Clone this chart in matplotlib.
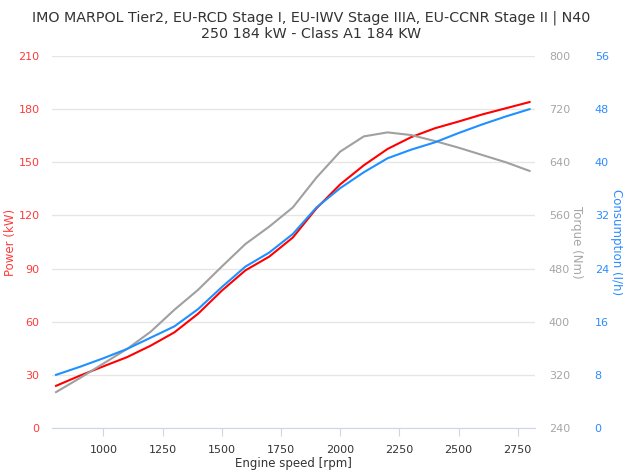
import matplotlib
matplotlib.use("Agg")
import matplotlib.pyplot as plt

plt.rcParams["font.family"] = ["DejaVu Sans"]

rpm = [800, 900, 1000, 1100, 1200, 1300, 1400, 1500, 1600, 1700, 1800,
       1900, 2000, 2100, 2200, 2300, 2400, 2500, 2600, 2700, 2800]
power = [23.8, 29.5, 34.8, 40.0, 46.5, 54.0, 64.5, 77.5, 89.0, 96.7, 107.5,
         124.0, 137.5, 148.3, 157.5, 164.2, 169.2, 173.0, 177.0, 180.5, 184.0]
torque = [294, 315, 337, 359, 385, 418, 448, 483, 517, 543, 572,
          617, 656, 679, 685, 681, 672, 662, 651, 640, 627]
consumption = [8.0, 9.2, 10.5, 11.9, 13.6, 15.3, 17.9, 21.2, 24.3, 26.4, 29.2,
               33.2, 36.1, 38.5, 40.6, 41.9, 43.0, 44.4, 45.7, 46.9, 48.0]

x_ticks = [1000, 1250, 1500, 1750, 2000, 2250, 2500, 2750]
power_ticks = list(range(0, 211, 30))
torque_ticks = list(range(240, 801, 80))
cons_ticks = list(range(0, 57, 8))

RED = "#ff0000"
GRAY = "#a0a0a0"
BLUE = "#1e90ff"

fig = plt.figure(figsize=(6.23, 4.75), dpi=100)
ax = fig.add_axes([52 / 623, 1 - 428 / 475, 483 / 623, 372 / 475])
ax2 = ax.twinx()
ax3 = ax.twinx()

ax.plot(rpm, power, color=RED, lw=1.5)
ax2.plot(rpm, torque, color=GRAY, lw=1.5)
ax3.plot(rpm, consumption, color=BLUE, lw=1.5)

ax.set_xlim(783, 2823)
ax.set_ylim(0, 210)
ax2.set_ylim(240, 800)
ax3.set_ylim(0, 56)

ax.set_xticks(x_ticks)
ax.set_yticks(power_ticks)
ax2.set_yticks(torque_ticks)
ax3.set_yticks(cons_ticks)

ax.grid(axis="y", color="#e6e6e6", lw=1)
ax.set_axisbelow(True)

for a in (ax, ax2, ax3):
    for s in a.spines.values():
        s.set_visible(False)
ax.spines["bottom"].set_visible(True)
ax.spines["bottom"].set_color("#ccd6eb")

ax.tick_params(axis="x", colors="#ccd6eb", length=6, labelcolor="#333333",
               labelsize=8, pad=6)
ax.tick_params(axis="y", length=0, labelcolor="#ff3b3b", labelsize=8, pad=9)
ax2.tick_params(axis="y", length=0, labelcolor="#a6a6a6", labelsize=8, pad=10)
ax3.spines["right"].set_position(("outward", 43))
ax3.tick_params(axis="y", length=0, labelcolor="#2b8cff", labelsize=8, pad=0)

ax.set_xlabel("Engine speed [rpm]", color="#333333", fontsize=8.5, labelpad=2)
ax.set_ylabel("Power (kW)", color="#ff3b3b", fontsize=8.5, labelpad=1)
ax2.set_ylabel("Torque (Nm)", color="#a6a6a6", fontsize=8.5, rotation=270,
               labelpad=9)
ax3.set_ylabel("Consumption (l/h)", color="#2b8cff", fontsize=8.5, rotation=270,
               labelpad=10)

fig.suptitle("IMO MARPOL Tier2, EU-RCD Stage I, EU-IWV Stage IIIA, EU-CCNR Stage II | N40\n"
             "250 184 kW - Class A1 184 KW",
             fontsize=10.3, color="#333333", y=0.978, linespacing=1.2)

fig.savefig("out.png", dpi=100)
